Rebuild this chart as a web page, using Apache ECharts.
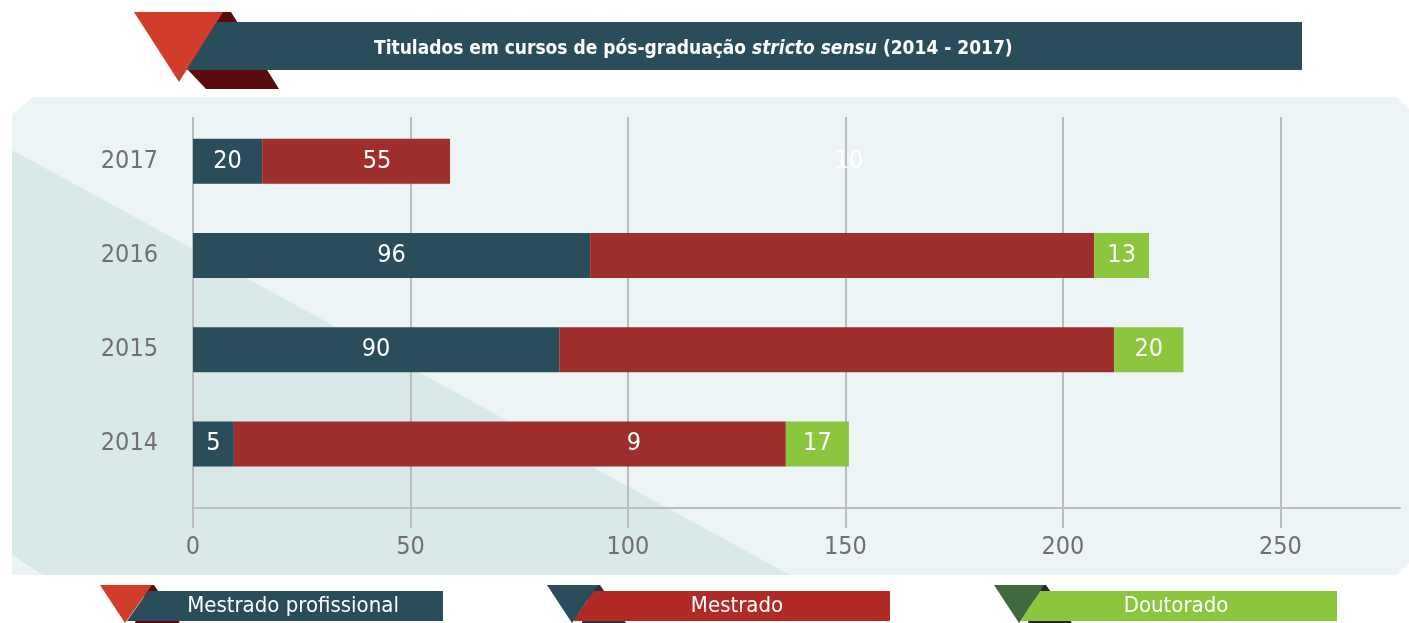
<!DOCTYPE html>
<html>
<head>
<meta charset="utf-8">
<script src="https://cdn.jsdelivr.net/npm/echarts@6/dist/echarts.min.js"></script>
<style>
  html, body { margin: 0; padding: 0; background: #fff; }
  #chart { width: 1409px; height: 623px; }
</style>
</head>
<body>
<div id="chart"></div>
<script>
// data (bar lengths on the x scale, printed labels separately)
const years = ['2014', '2015', '2016', '2017']
const profValues = [9.4, 84.2, 91.3, 15.9]
const mestValues = [126.9, 127.6, 115.9, 43.2]
const doutValues = [14.5, 15.9, 12.6, 0]
const profLabels = ['5', '90', '96', '20']
const mestLabels = ['9', '', '', '55']
const doutLabels = ['17', '20', '13', '']
const strayLabel = ['10']
const strayCoord = [150.8, '2017']
const xTicks = [0, 50, 100, 150, 200, 250]
const legendNames = ['Mestrado profissional', 'Mestrado', 'Doutorado']

const narrow = '"Liberation Sans Narrow", "DejaVu Sans Condensed", "Roboto", sans-serif'
const teal = '#2a4d5b'
const red = '#9e2f2d'
const green = '#8cc63f'
const gridColor = '#bcbcbc'
const xMax = 277.5
const fs = 25

// label nudges for the red bars (the picture does not centre them)
const mestLabelShift = [124, 0, 0, 21]

const chart = echarts.init(document.getElementById('chart'))

const barLabel = labels => ({
  show: true,
  position: 'inside',
  color: '#fff',
  fontFamily: narrow,
  fontSize: fs,
  formatter: p => labels[p.dataIndex],
})

const mkData = (values, shifts) => values.map((v, i) => shifts && shifts[i]
  ? { value: v, label: { offset: [shifts[i], 0] } }
  : v)

const poly = (points, fill, z) => ({ type: 'polygon', shape: { points }, style: { fill }, z: z || 0, silent: true })
const legendText = (x, text) => ({
  type: 'text', x, y: 606, z: 5, silent: true,
  style: { text, fill: '#fff', font: '22px ' + narrow, textAlign: 'center', textVerticalAlign: 'middle' },
})

chart.setOption({
  animation: false,
  title: {
    text: '{b|Titulados em cursos de pós-graduação }{i|stricto sensu}{b| (2014 - 2017)}',
    left: 369,
    top: 35,
    z: 10,
    textStyle: {
      rich: {
        b: { color: '#fff', fontFamily: narrow, fontWeight: 'bold', fontSize: 19 },
        i: { color: '#fff', fontFamily: narrow, fontStyle: 'italic', fontSize: 19 },
      },
    },
  },
  graphic: [
    // background panel and its diagonal shade
    poly([[12, 115], [33, 97], [1397, 97], [1409, 109], [1409, 563], [1397, 575], [12, 575]], '#ecf4f6', -20),
    poly([[12, 150], [790, 575], [43, 575], [12, 555]], '#d9e9ea', -19),
    // title ribbon
    poly([[222, 12], [231, 12], [279, 89], [206, 89], [156, 36]], '#5a0b0f', 1),
    poly([[217, 22], [1302, 22], [1302, 70], [186, 70]], teal, 2),
    poly([[134, 12], [223, 12], [179, 82]], '#d23c2a', 3),
    // legend ribbons
    poly([[148, 585], [154, 585], [180, 623], [135, 623]], '#5a0b0f', 1),
    poly([[148, 591], [443, 591], [443, 621], [127, 621]], teal, 2),
    poly([[100, 585], [152, 585], [125, 623]], '#d23c2a', 3),
    legendText(293, legendNames[0]),
    poly([[592, 585], [600, 585], [626, 623], [582, 623]], '#2b3336', 1),
    poly([[594, 591], [890, 591], [890, 621], [573, 621]], '#b22a25', 2),
    poly([[547, 585], [598, 585], [572, 623]], teal, 3),
    legendText(737, legendNames[1]),
    poly([[1038, 585], [1046, 585], [1072, 623], [1028, 623]], '#242a2a', 1),
    poly([[1040, 591], [1337, 591], [1337, 621], [1020, 621]], green, 2),
    poly([[994, 585], [1044, 585], [1019, 623]], '#41683f', 3),
    legendText(1176, legendNames[2]),
  ],
  grid: [
    { left: 193, right: 9, top: 114, height: 377 },
    { left: 193, right: 9, top: 117, bottom: 623 - 508 },
  ],
  xAxis: [
    { gridIndex: 0, type: 'value', min: 0, max: xMax, show: false },
    {
      gridIndex: 1, type: 'value', min: 0, max: xMax, interval: 50,
      axisLine: { show: true, lineStyle: { color: gridColor, width: 2 } },
      axisTick: { show: true, length: 20, lineStyle: { color: gridColor, width: 2 } },
      splitLine: { show: true, showMaxLine: false, lineStyle: { color: gridColor, width: 2 } },
      axisLabel: {
        margin: 27, color: '#707070', fontFamily: narrow, fontSize: fs,
        showMaxLabel: false,
        formatter: v => xTicks.includes(v) ? String(v) : '',
      },
    },
  ],
  yAxis: [
    {
      gridIndex: 0, type: 'category', data: years,
      axisLine: { show: false }, axisTick: { show: false },
      axisLabel: { margin: 35, color: '#707070', fontFamily: narrow, fontSize: fs },
    },
    { gridIndex: 1, type: 'value', show: false },
  ],
  series: [
    {
      name: legendNames[0], type: 'bar', stack: 'total', barWidth: 45,
      itemStyle: { color: teal }, label: barLabel(profLabels), data: mkData(profValues),
    },
    {
      name: legendNames[1], type: 'bar', stack: 'total', barWidth: 45,
      itemStyle: { color: red }, label: barLabel(mestLabels), data: mkData(mestValues, mestLabelShift),
    },
    {
      name: legendNames[2], type: 'bar', stack: 'total', barWidth: 45,
      itemStyle: { color: green }, label: barLabel(doutLabels), data: mkData(doutValues),
      markPoint: {
        symbol: 'circle',
        symbolSize: 1,
        itemStyle: { color: 'rgba(0,0,0,0)' },
        label: { show: true, position: 'inside', color: '#fff', fontFamily: narrow, fontSize: fs, formatter: strayLabel[0] },
        data: [{ coord: strayCoord }],
      },
    },
  ],
})
</script>
</body>
</html>
